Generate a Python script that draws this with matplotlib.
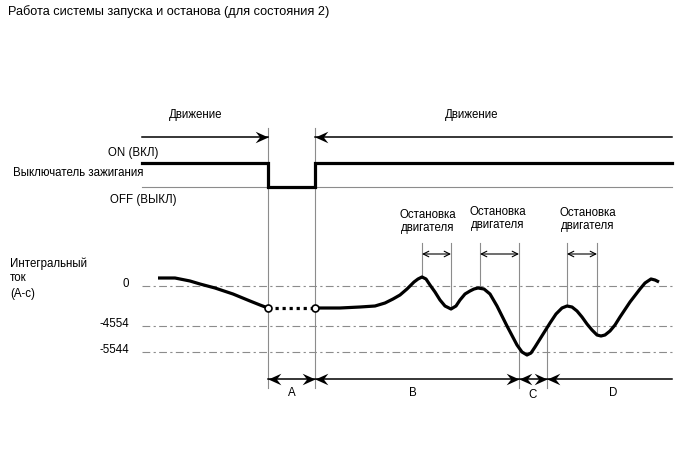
import numpy as np
import matplotlib
matplotlib.use('Agg')
import matplotlib.pyplot as plt
from matplotlib.path import Path

plt.rcParams['font.family'] = ['Liberation Sans', 'DejaVu Sans']
FS = 8.3
FS_TITLE = 9.2

# --- schematic data, in picture units (x: time, y: screen position) ---
title = 'Работа системы запуска и останова (для состояния 2)'
x_left, x_right = 142, 672
t_off, t_on = 268, 315            # ignition switched off / on again
t_bc, t_cd = 519, 547             # period boundaries

sw_on_y, sw_off_y = 163, 187      # ON / OFF levels of the switch
level_labels = ['0', '-4554', '-5544']
level_y = [286, 326, 352]

# integrated current, before the switch-off
cur1_x = [158, 175, 190, 200, 215, 233, 250, 260, 268]
cur1_y = [278, 278, 281, 284, 288, 294, 301, 305, 308]
# integrated current, after the switch-on
cur2_x = [315, 340, 360, 375, 385, 393, 400, 407, 414, 418, 422, 426, 430, 435, 440, 445,
          451, 456, 460, 465, 470, 474, 478, 484, 490, 497, 507, 517, 522, 527, 531, 535,
          540, 550, 556, 562, 567, 572, 577, 582, 587, 592, 597, 601, 605, 610, 615, 620,
          630, 640, 645, 651, 655, 659]
cur2_y = [308, 308, 307, 306, 303, 299, 295, 289, 282, 279, 277, 279, 285, 292, 300, 306,
          309, 306, 300, 294, 291, 289, 288, 289, 294, 306, 326, 345, 352, 355, 353, 347,
          339, 323, 314, 308, 306, 307, 311, 317, 324, 330, 335, 336, 335, 331, 325, 317,
          302, 289, 283, 279, 280, 282]

# engine stop intervals
stop_start = [422, 480, 567]
stop_end = [451, 519, 597]
stop_label_x = [428, 498, 588]
stop_label_y = [215, 212, 213]

period_names = ['A', 'B', 'C', 'D']
period_label_x = [292, 413, 533, 613]
period_label_y = [393, 393, 395, 393]

GRAY = '#8c8c8c'
LW_THICK = 2.3

fig = plt.figure(figsize=(6.88, 4.63), dpi=100)
ax = fig.add_axes([0, 0, 1, 1])
ax.set_xlim(0, 688)
ax.set_ylim(463, 0)
ax.axis('off')

head_r = Path([(0, 0), (-1, 0.45), (-0.65, 0), (-1, -0.45), (0, 0)],
              [Path.MOVETO, Path.LINETO, Path.LINETO, Path.LINETO, Path.CLOSEPOLY])
head_l = Path([(0, 0), (1, 0.45), (0.65, 0), (1, -0.45), (0, 0)],
              [Path.MOVETO, Path.LINETO, Path.LINETO, Path.LINETO, Path.CLOSEPOLY])


def head(x, y, right=True):
    ax.plot([x], [y], marker=head_r if right else head_l, ms=18.5, color='black',
            mew=0, zorder=5)


def interp_y(x, xs, ys):
    return np.interp(x, xs, ys)


ax.text(8, 12, title, fontsize=FS_TITLE, va='center', ha='left')

# motion arrows
ax.text(196, 115, 'Движение', fontsize=FS, ha='center', va='center')
ax.text(472, 115, 'Движение', fontsize=FS, ha='center', va='center')
ax.plot([x_left, t_off], [137, 137], color='black', lw=1.1)
head(t_off, 137, True)
ax.plot([t_on, x_right], [137, 137], color='black', lw=1.1)
head(t_on, 137, False)

# vertical markers at switch off / on
for xv in [t_off, t_on]:
    ax.plot([xv, xv], [128, 388], color=GRAY, lw=0.8, zorder=1)

# ignition switch
ax.plot([x_left, x_right], [sw_off_y, sw_off_y], color=GRAY, lw=0.8, zorder=1)
ax.plot([x_left, t_off, t_off, t_on, t_on, x_right],
        [sw_on_y, sw_on_y, sw_off_y, sw_off_y, sw_on_y, sw_on_y],
        color='black', lw=LW_THICK, solid_joinstyle='miter', zorder=3)
ax.text(158, 153, 'ON (ВКЛ)', fontsize=FS, ha='right', va='center')
ax.text(13, 173, 'Выключатель зажигания', fontsize=FS, ha='left', va='center')
ax.text(110, 200, 'OFF (ВЫКЛ)', fontsize=FS, ha='left', va='center')

# current levels
for lab, yv in zip(level_labels, level_y):
    ax.plot([x_left, x_right], [yv, yv], color=GRAY, lw=0.8,
            dashes=(7, 3, 2, 3), zorder=1)
    ax.text(129, yv - 2, lab, fontsize=FS, ha='right', va='center')
ax.text(10, 264, 'Интегральный', fontsize=FS, ha='left', va='center')
ax.text(10, 278, 'ток', fontsize=FS, ha='left', va='center')
ax.text(10, 294, '(А-с)', fontsize=FS, ha='left', va='center')

# current curve
ax.plot(cur1_x, cur1_y, color='black', lw=LW_THICK, solid_capstyle='butt',
        solid_joinstyle='round', zorder=3)
ax.plot(cur2_x, cur2_y, color='black', lw=LW_THICK, solid_capstyle='butt',
        solid_joinstyle='round', zorder=3)
ax.plot([t_off, t_on], [cur1_y[-1], cur2_y[0]], color='black', lw=LW_THICK,
        dashes=(1, 1.2), zorder=3)
ax.plot([t_off, t_on], [cur1_y[-1], cur2_y[0]], ls='none', marker='o', ms=5,
        mfc='white', mec='black', mew=1.2, zorder=4)

# engine stop intervals
for xs, xe, lx, ly in zip(stop_start, stop_end, stop_label_x, stop_label_y):
    for xv in [xs, xe]:
        yb = 388 if xv == t_bc else interp_y(xv, cur2_x, cur2_y)
        ax.plot([xv, xv], [243, yb], color=GRAY, lw=0.8, zorder=1)
    ax.annotate('', xy=(xe, 254), xytext=(xs, 254),
                arrowprops=dict(arrowstyle='<->,head_length=0.4,head_width=0.2',
                                color='black', lw=0.8, shrinkA=0, shrinkB=0))
    ax.text(lx, ly, 'Остановка', fontsize=FS, ha='center', va='center')
    ax.text(lx, ly + 13, 'двигателя', fontsize=FS, ha='center', va='center')

ax.plot([t_cd, t_cd], [interp_y(t_cd, cur2_x, cur2_y), 388], color=GRAY, lw=0.8, zorder=1)

# periods A-D
ax.plot([t_off, x_right], [379, 379], color='black', lw=1.1)
head(t_off, 379, False)
head(t_on, 379, True)
head(t_on, 379, False)
head(t_bc, 379, True)
head(t_bc, 379, False)
head(t_cd, 379, True)
head(t_cd, 379, False)
for name, lx, ly in zip(period_names, period_label_x, period_label_y):
    ax.text(lx, ly, name, fontsize=FS, ha='center', va='center')

fig.savefig('out.png', dpi=100)
